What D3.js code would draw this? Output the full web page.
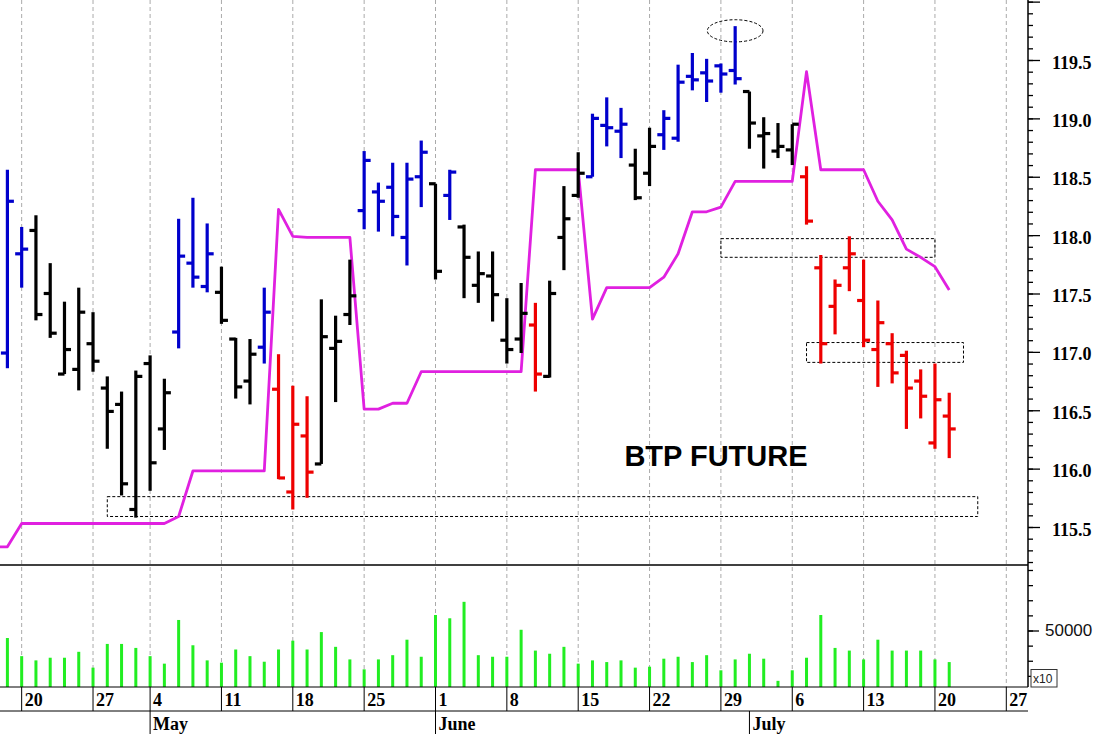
<!DOCTYPE html>
<html>
<head>
<meta charset="utf-8">
<script src="https://cdnjs.cloudflare.com/ajax/libs/d3/7.8.5/d3.min.js"></script>
<style>
  html, body { margin: 0; padding: 0; background: #fff; }
  svg { display: block; }
</style>
</head>
<body>
<svg id="chart" width="1099" height="734"></svg>
<script>
// trading days (2020), 1 May closed
var dates = ['04-16','04-17','04-20','04-21','04-22','04-23','04-24','04-27','04-28','04-29','04-30',
  '05-04','05-05','05-06','05-07','05-08','05-11','05-12','05-13','05-14','05-15','05-18','05-19','05-20','05-21','05-22',
  '05-25','05-26','05-27','05-28','05-29',
  '06-01','06-02','06-03','06-04','06-05','06-08','06-09','06-10','06-11','06-12','06-15','06-16','06-17','06-18','06-19',
  '06-22','06-23','06-24','06-25','06-26','06-29','06-30',
  '07-01','07-02','07-03','07-06','07-07','07-08','07-09','07-10','07-13','07-14','07-15','07-16','07-17','07-20','07-21',
  '07-22','07-23','07-24','07-27'];

var opens = [117.10, 116.99, 117.84, 118.04, 117.50, 116.81, 116.85, 117.07, 116.69, 116.55, 115.65, 116.90, 116.34,
  117.17, 117.76, 117.56, 117.51, 117.11, 116.75, 117.04, 116.68, 115.80, 116.28, 116.04, 117.03, 117.32, 118.21, 118.37,
  118.41, 117.98, 118.50, 118.44, 118.34, 118.07, 117.57, 117.65, 117.10, 117.11, 117.23, 116.79, 117.98, 118.34, 118.50,
  118.94, 118.89, 118.60, 118.53, 118.86, 118.83, 119.36, 119.39, 119.45, 119.41, 119.23, 118.85, 118.72, 118.73, 118.50,
  117.72, 117.39, 117.72, 117.44, 117.02, 117.07, 116.97, 116.75, 116.22, 116.45];
var highs = [117.50, 118.56, 118.07, 118.17, 117.76, 117.43, 117.55, 117.34, 116.79, 116.66, 116.84, 116.97, 116.77,
  118.14, 118.32, 118.10, 117.73, 117.12, 117.11, 117.55, 116.98, 116.71, 116.62, 117.45, 117.31, 117.79, 118.72, 118.45,
  118.62, 118.62, 118.81, 118.44, 118.56, 118.09, 117.86, 117.86, 117.46, 117.59, 117.42, 117.61, 118.42, 118.71, 119.04,
  119.18, 119.09, 118.74, 118.92, 119.07, 119.46, 119.56, 119.51, 119.47, 119.79, 119.23, 119.01, 118.96, 118.95, 118.59,
  117.83, 117.62, 117.99, 117.79, 117.44, 117.16, 117.01, 116.85, 116.90, 116.65];
var lows = [116.90, 116.86, 117.55, 117.27, 117.12, 116.81, 116.67, 116.83, 116.17, 115.77, 115.58, 115.81, 116.16,
  117.03, 117.55, 117.51, 117.24, 116.60, 116.55, 116.90, 115.91, 115.65, 115.75, 116.04, 116.57, 117.23, 118.05, 118.03,
  117.99, 117.74, 118.24, 117.62, 118.13, 117.46, 117.42, 117.26, 116.90, 116.99, 116.66, 116.78, 117.70, 118.32, 118.50,
  118.76, 118.66, 118.30, 118.42, 118.73, 118.80, 119.24, 119.14, 119.22, 119.29, 118.74, 118.57, 118.66, 118.60, 118.09,
  116.90, 117.15, 117.52, 117.04, 116.70, 116.73, 116.34, 116.43, 116.17, 116.09];
var closes = [117.25, 118.29, 117.88, 117.32, 117.16, 117.02, 117.34, 116.92, 116.49, 115.87, 116.79, 116.05, 116.65,
  117.82, 117.64, 117.84, 117.27, 116.70, 116.98, 117.34, 115.92, 116.38, 115.97, 117.13, 117.09, 117.48, 118.64, 118.29,
  118.16, 118.48, 118.71, 117.69, 118.54, 117.81, 117.67, 117.49, 117.02, 117.33, 116.81, 117.50, 118.14, 118.53, 119.00,
  118.92, 118.95, 118.32, 118.76, 119.00, 119.31, 119.33, 119.32, 119.38, 119.34, 118.96, 118.87, 118.76, 118.95, 118.12,
  117.07, 117.57, 117.84, 117.10, 117.25, 116.82, 116.69, 116.62, 116.59, 116.34];
// U = up signal, D = down signal, N = neutral
var signals = ('U' + 'UU' + 'NNNNNNNNNN' + 'UUU' + 'NNN' + 'U' + 'DDD' + 'NNN' + 'UUUUU' + 'N' + 'U' +
  'NNNNN' + 'D' + 'NNN' + 'UUU' + 'NN' + 'UUUUUU' + 'NNNN' + 'DDDDDDDDDDD').split('');
var volumes = [30000, 43800, 28800, 25300, 27500, 27500, 32400, 19300, 38900, 38900, 35600, 28800, 22600, 58700,
  37800, 25300, 23400, 34300, 28800, 24200, 34300, 41600, 34300, 48700, 36500, 26100, 17900, 26100, 29600, 42400,
  28300, 62800, 60100, 73700, 29600, 28300, 28300, 50600, 33400, 30800, 36500, 22600, 25300, 23900, 25300, 19300,
  20100, 26700, 28300, 23900, 29600, 17100, 26100, 30800, 26700, 8400, 17100, 27500, 62800, 35600, 33400, 26100,
  42400, 33400, 33400, 33400, 26100, 23900];
var stopLine = [115.33, 115.33, 115.53, 115.53, 115.53, 115.53, 115.53, 115.53, 115.53, 115.53, 115.53, 115.53,
  115.53, 115.59, 115.98, 115.98, 115.98, 115.98, 115.98, 115.98, 118.22, 117.99, 117.98, 117.98, 117.98, 117.98,
  116.51, 116.51, 116.56, 116.56, 116.83, 116.83, 116.83, 116.83, 116.83, 116.83, 116.83, 116.83, 118.56, 118.56,
  118.56, 118.56, 117.28, 117.55, 117.55, 117.55, 117.55, 117.64, 117.84, 118.20, 118.20, 118.24, 118.46, 118.46,
  118.46, 118.46, 118.46, 119.40, 118.56, 118.56, 118.56, 118.56, 118.29, 118.13, 117.88, 117.81, 117.73, 117.53];

var weekTicks = ['04-20','04-27','05-04','05-11','05-18','05-25','06-01','06-08','06-15','06-22','06-29','07-06','07-13','07-20','07-27'];
var weekLabels = ['20','27','4','11','18','25','1','8','15','22','29','6','13','20','27'];
var monthTicks = ['05-04','06-01','07-01'];
var monthLabels = ['May','June','July'];
var priceLabels = [115.5, 116.0, 116.5, 117.0, 117.5, 118.0, 118.5, 119.0, 119.5];

// annotation zones drawn by the analyst
var boxFrom = ['04-28','06-29','07-07'];
var boxTo = ['07-23','07-20','07-22'];
var boxHigh = [115.76, 117.97, 117.08];
var boxLow = [115.59, 117.81, 116.91];
var peakDate = '06-30';
var peakPrice = 119.75;

var W = 1028, priceBottom = 565, volBottom = 687, dayBottom = 711, H = 734;
var serif = '"Liberation Serif", "Times New Roman", serif';
var sans = '"Liberation Sans", Arial, sans-serif';
var colors = { U: '#0000cc', D: '#ee0000', N: '#000000' };

var svg = d3.select('#chart');

var xScale = d3.scaleLinear().domain([0, dates.length - 1]).range([-6.87, 1006.3]);
var yPrice = d3.scaleLinear().domain([115.5, 119.5]).range([527, 60]);
var yVol = d3.scaleLinear().domain([0, 50000]).range([691, 630.5]);

var xd = function(d) {
  return xScale(dates.indexOf(d));
};

var defs = svg.append('defs');
defs.append('clipPath').attr('id', 'clip-price')
  .append('rect').attr('x', 0).attr('y', 0).attr('width', W).attr('height', priceBottom);
defs.append('clipPath').attr('id', 'clip-vol')
  .append('rect').attr('x', 0).attr('y', priceBottom).attr('width', W).attr('height', volBottom - priceBottom);
defs.append('clipPath').attr('id', 'clip-price-axis')
  .append('rect').attr('x', W).attr('y', 0).attr('width', 1099 - W).attr('height', priceBottom);
defs.append('clipPath').attr('id', 'clip-vol-axis')
  .append('rect').attr('x', W).attr('y', priceBottom).attr('width', 1099 - W).attr('height', volBottom - priceBottom);

// vertical weekly grid
svg.append('g').selectAll('line').data(weekTicks).join('line')
  .attr('x1', xd).attr('x2', xd)
  .attr('y1', 0).attr('y2', volBottom)
  .attr('stroke', '#aaaaaa').attr('stroke-width', 1).attr('stroke-dasharray', '4,3');

var price = svg.append('g').attr('clip-path', 'url(#clip-price)');

// dashed zones
price.append('g').selectAll('rect').data(boxFrom).join('rect')
  .attr('x', function(d) { return xd(d); })
  .attr('y', function(d, i) { return yPrice(boxHigh[i]); })
  .attr('width', function(d, i) { return xd(boxTo[i]) - xd(d); })
  .attr('height', function(d, i) { return yPrice(boxLow[i]) - yPrice(boxHigh[i]); })
  .attr('fill', 'none').attr('stroke', '#000').attr('stroke-width', 1).attr('stroke-dasharray', '3,2');

var pk = dates.indexOf(peakDate);
price.append('ellipse')
  .attr('cx', xScale(pk)).attr('cy', yPrice(peakPrice))
  .attr('rx', xScale(pk + 1.95) - xScale(pk))
  .attr('ry', yPrice(peakPrice - 0.095) - yPrice(peakPrice))
  .attr('fill', 'none').attr('stroke', '#000').attr('stroke-width', 1).attr('stroke-dasharray', '3,2');

// magenta stop line
var line = d3.line()
  .x(function(d, i) { return xScale(i); })
  .y(function(d) { return yPrice(d); });
price.append('path').datum(stopLine)
  .attr('d', line)
  .attr('fill', 'none').attr('stroke', '#e020e0').attr('stroke-width', 2.8)
  .attr('stroke-linejoin', 'round');

// OHLC bars
var bars = price.append('g').selectAll('g.bar').data(opens).join('g')
  .attr('class', 'bar')
  .attr('stroke', function(d, i) { return colors[signals[i]]; })
  .attr('stroke-width', 3.2);
bars.append('line')
  .attr('x1', function(d, i) { return xScale(i); })
  .attr('x2', function(d, i) { return xScale(i); })
  .attr('y1', function(d, i) { return yPrice(highs[i]); })
  .attr('y2', function(d, i) { return yPrice(lows[i]); });
bars.append('line')
  .attr('x1', function(d, i) { return xScale(i) - 6.5; })
  .attr('x2', function(d, i) { return xScale(i); })
  .attr('y1', function(d) { return yPrice(d); })
  .attr('y2', function(d) { return yPrice(d); });
bars.append('line')
  .attr('x1', function(d, i) { return xScale(i); })
  .attr('x2', function(d, i) { return xScale(i) + 6.5; })
  .attr('y1', function(d, i) { return yPrice(closes[i]); })
  .attr('y2', function(d, i) { return yPrice(closes[i]); });

svg.append('text')
  .attr('x', 716).attr('y', 466)
  .attr('text-anchor', 'middle')
  .attr('font-family', sans).attr('font-weight', 'bold').attr('font-size', 29)
  .attr('fill', '#000')
  .text('BTP FUTURE');

// volume
svg.append('g').attr('clip-path', 'url(#clip-vol)')
  .selectAll('rect').data(volumes).join('rect')
  .attr('x', function(d, i) { return xScale(i) - 1.5; })
  .attr('width', 3)
  .attr('y', function(d) { return yVol(d); })
  .attr('height', function(d) { return yVol(0) - yVol(d); })
  .attr('fill', '#22ee22');

// frame lines
var frame = svg.append('g').attr('stroke', '#000').attr('stroke-width', 1);
frame.append('line').attr('x1', 0).attr('x2', W).attr('y1', priceBottom).attr('y2', priceBottom).attr('stroke-width', 1.5);
frame.append('line').attr('x1', 0).attr('x2', W).attr('y1', volBottom).attr('y2', volBottom);
frame.append('line').attr('x1', 0).attr('x2', W).attr('y1', dayBottom).attr('y2', dayBottom);
frame.append('line').attr('x1', W).attr('x2', W).attr('y1', 0).attr('y2', volBottom).attr('stroke-width', 1.5);

// right price axis: minor + major ticks
var minorTicks = d3.range(1152, 1201).map(function(v) { return v / 10; });
var majorTicks = d3.range(2310, 2401, 10).map(function(v) { return v / 20; });
var priceAxis = svg.append('g').attr('clip-path', 'url(#clip-price-axis)');
priceAxis.append('g').attr('transform', 'translate(' + W + ',0)')
  .call(d3.axisRight(yPrice).tickValues(minorTicks).tickSize(5).tickSizeOuter(0).tickFormat(''));
priceAxis.append('g').attr('transform', 'translate(' + W + ',0)')
  .call(d3.axisRight(yPrice).tickValues(majorTicks).tickSize(12).tickSizeOuter(0).tickPadding(12)
    .tickFormat(function(d) { return priceLabels.indexOf(d) >= 0 ? d3.format('.1f')(d) : ''; }));
priceAxis.selectAll('.domain').remove();
priceAxis.selectAll('line').attr('stroke', '#000').attr('stroke-width', 1.3);
priceAxis.selectAll('text')
  .attr('font-family', serif).attr('font-weight', 'bold').attr('font-size', 18).attr('fill', '#000')
  .attr('dy', '0.45em');

// right volume axis
var volMinor = d3.range(12500, 100001, 12500);
var volAxis = svg.append('g').attr('clip-path', 'url(#clip-vol-axis)');
volAxis.append('g').attr('transform', 'translate(' + W + ',0)')
  .call(d3.axisRight(yVol).tickValues(volMinor).tickSize(5).tickSizeOuter(0).tickFormat(''));
volAxis.append('g').attr('transform', 'translate(' + W + ',0)')
  .call(d3.axisRight(yVol).tickValues([50000]).tickSize(11).tickSizeOuter(0).tickPadding(6).tickFormat(d3.format('d')));
volAxis.selectAll('.domain').remove();
volAxis.selectAll('line').attr('stroke', '#000').attr('stroke-width', 1.3);
volAxis.selectAll('text')
  .attr('font-family', sans).attr('font-size', 17).attr('fill', '#111');

// x10 multiplier tag
var tag = svg.append('g');
tag.append('rect').attr('x', W + 3).attr('y', 669.5).attr('width', 26).attr('height', 17.5)
  .attr('fill', '#fff').attr('stroke', '#333').attr('stroke-width', 1);
tag.append('text').attr('x', W + 5).attr('y', 683)
  .attr('font-family', sans).attr('font-size', 12).attr('fill', '#222')
  .text('x10');

// day row
var dayRow = svg.append('g');
dayRow.selectAll('line').data(weekTicks).join('line')
  .attr('x1', xd).attr('x2', xd)
  .attr('y1', volBottom).attr('y2', dayBottom)
  .attr('stroke', '#000').attr('stroke-width', 1);
dayRow.selectAll('text').data(weekTicks).join('text')
  .attr('x', function(d) { return xd(d) + 3; })
  .attr('y', 706)
  .attr('font-family', serif).attr('font-weight', 'bold').attr('font-size', 18).attr('fill', '#000')
  .text(function(d, i) { return weekLabels[i]; });

// month row
var monthRow = svg.append('g');
monthRow.selectAll('line').data(monthTicks).join('line')
  .attr('x1', xd).attr('x2', xd)
  .attr('y1', dayBottom).attr('y2', H)
  .attr('stroke', '#000').attr('stroke-width', 1);
monthRow.selectAll('text').data(monthTicks).join('text')
  .attr('x', function(d) { return xd(d) + 3; })
  .attr('y', 730)
  .attr('font-family', serif).attr('font-weight', 'bold').attr('font-size', 18).attr('fill', '#000')
  .text(function(d, i) { return monthLabels[i]; });
</script>
</body>
</html>
